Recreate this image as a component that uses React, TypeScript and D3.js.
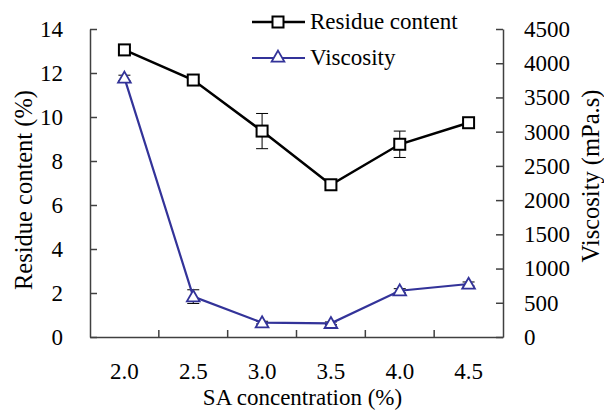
import { useEffect, useRef } from 'react';
import * as d3 from 'd3';

// chart data
const concentrations = ['2.0', '2.5', '3.0', '3.5', '4.0', '4.5'];
const residueContent = [13.05, 11.68, 9.36, 6.92, 8.76, 9.74];
const residueError = [0.1, 0.1, 0.8, 0.1, 0.6, 0.1];
const viscosity = [3785, 590, 210, 200, 676, 774];
const viscosityError = [40, 100, 20, 20, 30, 30];
const residueTicks = [0, 2, 4, 6, 8, 10, 12, 14];
const viscosityTicks = [0, 500, 1000, 1500, 2000, 2500, 3000, 3500, 4000, 4500];

const WIDTH = 604;
const HEIGHT = 411;
const MARGIN = { top: 29, right: 101, bottom: 74, left: 90 };
const FONT = "'Times New Roman', 'Liberation Serif', 'DejaVu Serif', serif";
const AXIS_COLOR = '#404040';
const BLUE = '#333399';

export default function App() {
  const svgRef = useRef<SVGSVGElement>(null);

  useEffect(() => {
    if (!svgRef.current) return;
    const svg = d3.select(svgRef.current);
    svg.selectAll('*').remove();

    const x0 = MARGIN.left;
    const x1 = WIDTH - MARGIN.right;
    const y0 = HEIGHT - MARGIN.bottom;
    const y1 = MARGIN.top;

    const xScale = d3.scaleBand().domain(concentrations).range([x0, x1]).padding(0);
    const yLeft = d3.scaleLinear().domain([0, 14]).range([y0, y1]);
    const yRight = d3.scaleLinear().domain([0, 4500]).range([y0, y1]);
    const cx = (c: string) => (xScale(c) ?? 0) + xScale.bandwidth() / 2;

    const g = svg.append('g');

    const styleText = (sel: any, size = 23) =>
      sel.style('font-family', FONT).style('font-size', `${size}px`).attr('fill', '#000');

    // left axis
    const left = g
      .append('g')
      .attr('transform', `translate(${x0},0)`)
      .call(
        d3.axisLeft(yLeft).tickValues(residueTicks).tickFormat(d3.format('d')).tickSizeInner(-7).tickSizeOuter(0).tickPadding(27),
      );
    left.select('.domain').attr('stroke', AXIS_COLOR).attr('stroke-width', 1.5);
    left.selectAll('.tick line').attr('stroke', AXIS_COLOR).attr('stroke-width', 1.5);
    styleText(left.selectAll('.tick text'));

    // right axis
    const right = g
      .append('g')
      .attr('transform', `translate(${x1},0)`)
      .call(
        d3.axisRight(yRight).tickValues(viscosityTicks).tickFormat(d3.format('d')).tickSizeInner(-7).tickSizeOuter(0).tickPadding(21),
      );
    right.select('.domain').attr('stroke', AXIS_COLOR).attr('stroke-width', 1.5);
    right.selectAll('.tick line').attr('stroke', AXIS_COLOR).attr('stroke-width', 1.5);
    styleText(right.selectAll('.tick text'));

    // bottom axis
    const bottom = g
      .append('g')
      .attr('transform', `translate(0,${y0})`)
      .call(d3.axisBottom(xScale).tickSize(0).tickPadding(26));
    bottom.select('.domain').attr('stroke', AXIS_COLOR).attr('stroke-width', 1.5);
    styleText(bottom.selectAll('.tick text'));
    concentrations.slice(1).forEach(c => {
      const bx = xScale(c) ?? 0;
      g.append('line')
        .attr('x1', bx)
        .attr('x2', bx)
        .attr('y1', y0)
        .attr('y2', y0 - 7)
        .attr('stroke', AXIS_COLOR)
        .attr('stroke-width', 1.5);
    });

    // axis titles
    styleText(
      g.append('text')
        .attr('x', (x0 + x1) / 2 + 6)
        .attr('y', 405)
        .attr('text-anchor', 'middle')
        .text('SA concentration (%)'),
    );
    styleText(
      g.append('text')
        .attr('transform', `translate(32,190) rotate(-90)`)
        .attr('text-anchor', 'middle')
        .text('Residue content (%)'),
      24.5,
    );
    styleText(
      g.append('text')
        .attr('transform', `translate(599,176) rotate(-90)`)
        .attr('text-anchor', 'middle')
        .text('Viscosity (mPa.s)'),
      24.5,
    );

    // error bars
    const errorBars = (vals: number[], errs: number[], scale: d3.ScaleLinear<number, number>) => {
      vals.forEach((v, i) => {
        const x = cx(concentrations[i]);
        const ya = scale(v + errs[i]);
        const yb = scale(v - errs[i]);
        g.append('line').attr('x1', x).attr('x2', x).attr('y1', ya).attr('y2', yb).attr('stroke', '#000').attr('stroke-width', 1);
        [ya, yb].forEach(yy =>
          g.append('line').attr('x1', x - 6).attr('x2', x + 6).attr('y1', yy).attr('y2', yy).attr('stroke', '#000').attr('stroke-width', 1),
        );
      });
    };
    errorBars(residueContent, residueError, yLeft);
    errorBars(viscosity, viscosityError, yRight);

    // viscosity line
    const viscLine = d3
      .line<number>()
      .x((_d, i) => cx(concentrations[i]))
      .y(d => yRight(d));
    g.append('path').attr('d', viscLine(viscosity)).attr('fill', 'none').attr('stroke', BLUE).attr('stroke-width', 2.2);

    const triangle = d3.symbol().type(d3.symbolTriangle).size(70);
    viscosity.forEach((v, i) => {
      g.append('path')
        .attr('d', triangle())
        .attr('transform', `translate(${cx(concentrations[i])},${yRight(v) + 1})`)
        .attr('fill', '#fff')
        .attr('stroke', BLUE)
        .attr('stroke-width', 1.8);
    });

    // residue line
    const resLine = d3
      .line<number>()
      .x((_d, i) => cx(concentrations[i]))
      .y(d => yLeft(d));
    g.append('path').attr('d', resLine(residueContent)).attr('fill', 'none').attr('stroke', '#000').attr('stroke-width', 2.5);
    residueContent.forEach((v, i) => {
      g.append('rect')
        .attr('x', cx(concentrations[i]) - 5.5)
        .attr('y', yLeft(v) - 5.5)
        .attr('width', 11)
        .attr('height', 11)
        .attr('fill', '#fff')
        .attr('stroke', '#000')
        .attr('stroke-width', 2);
    });

    // legend
    const legendItems = [
      { label: 'Residue content', color: '#000', marker: 'square', y: 22 },
      { label: 'Viscosity', color: BLUE, marker: 'triangle', y: 58 },
    ];
    legendItems.forEach(item => {
      g.append('line')
        .attr('x1', 252)
        .attr('x2', 305)
        .attr('y1', item.y)
        .attr('y2', item.y)
        .attr('stroke', item.color)
        .attr('stroke-width', item.marker === 'square' ? 2.5 : 2.2);
      if (item.marker === 'square') {
        g.append('rect')
          .attr('x', 278 - 5.5)
          .attr('y', item.y - 5.5)
          .attr('width', 11)
          .attr('height', 11)
          .attr('fill', '#fff')
          .attr('stroke', item.color)
          .attr('stroke-width', 2);
      } else {
        g.append('path')
          .attr('d', triangle())
          .attr('transform', `translate(278,${item.y})`)
          .attr('fill', '#fff')
          .attr('stroke', item.color)
          .attr('stroke-width', 1.8);
      }
      styleText(
        g.append('text')
          .attr('x', 310)
          .attr('y', item.y + 7)
          .text(item.label),
      );
    });
  }, []);

  return (
    <svg
      ref={svgRef}
      width={WIDTH}
      height={HEIGHT}
      style={{ position: 'absolute', left: 0, top: 0, background: '#fff', display: 'block' }}
    />
  );
}
